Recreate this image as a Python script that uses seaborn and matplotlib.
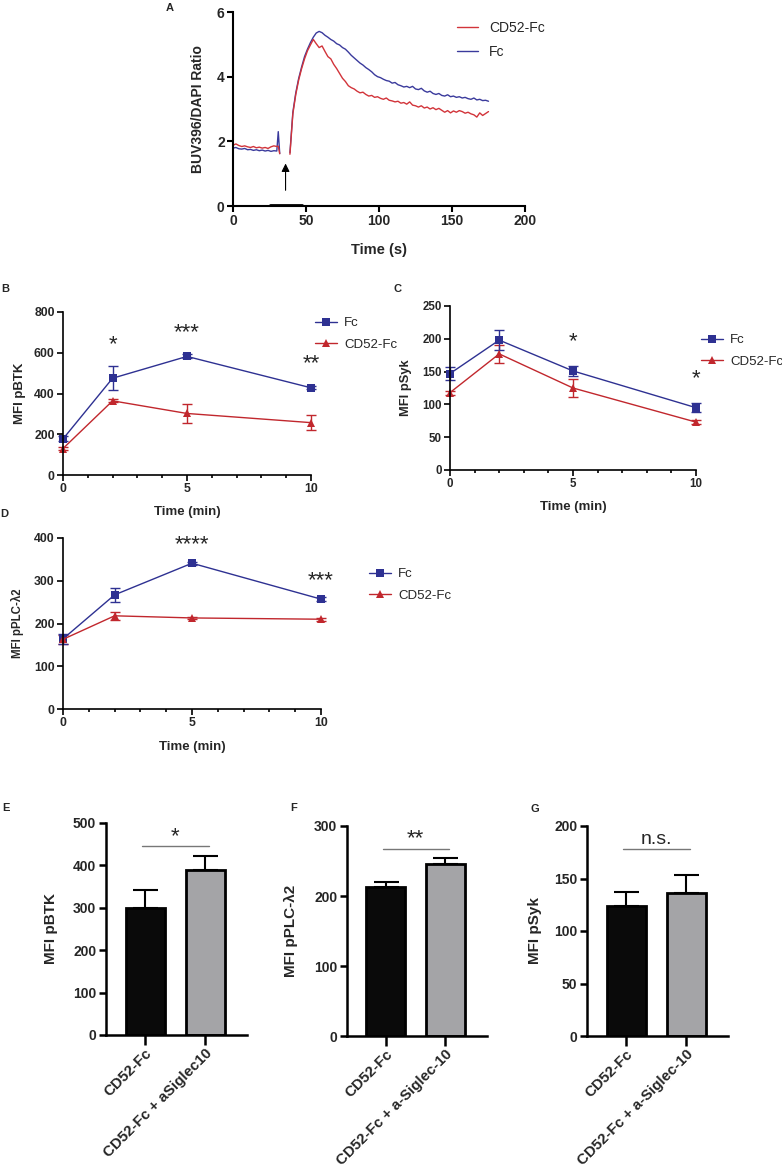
import pandas as pd
import seaborn as sns
import matplotlib.pyplot as plt
from matplotlib.lines import Line2D
from matplotlib.ticker import MultipleLocator

W, H = 782, 1175

# ---------------- data ----------------
# A: calcium flux trace (BUV396/DAPI ratio)
flux_t_pre = [0, 2, 4, 6, 8, 10, 12, 14, 16, 18, 20, 22, 24, 26, 28, 30, 31, 32]
flux_cd52_pre = [1.88, 1.92, 1.87, 1.84, 1.86, 1.83, 1.81, 1.84, 1.80, 1.82,
                 1.79, 1.81, 1.78, 1.83, 1.86, 1.84, 1.85, 1.62]
flux_fc_pre = [1.79, 1.81, 1.77, 1.76, 1.78, 1.74, 1.75, 1.72, 1.74, 1.71,
               1.73, 1.70, 1.72, 1.69, 1.71, 1.70, 2.30, 1.62]
flux_t_post = list(range(39, 176, 2))
flux_cd52_post = [1.60, 2.85, 3.45, 3.90, 4.25, 4.55, 4.80, 4.98, 5.15, 5.02, 4.90,
                  4.95, 4.78, 4.62, 4.55, 4.38, 4.25, 4.10, 3.95, 3.85, 3.72,
                  3.66, 3.62, 3.55, 3.50, 3.52, 3.45, 3.40, 3.42, 3.36, 3.38,
                  3.33, 3.30, 3.34, 3.27, 3.25, 3.22, 3.24, 3.18, 3.20, 3.15,
                  3.22, 3.12, 3.10, 3.06, 3.10, 3.03, 3.06, 3.00, 3.04, 2.98,
                  3.02, 2.96, 2.90, 2.95, 2.88, 2.94, 2.90, 2.95, 2.92, 2.87,
                  2.90, 2.85, 2.82, 2.75, 2.88, 2.80, 2.86, 2.92]
flux_fc_post = [1.65, 2.90, 3.50, 3.95, 4.30, 4.62, 4.85, 5.05, 5.22, 5.35, 5.40,
                5.36, 5.28, 5.22, 5.15, 5.10, 5.02, 4.98, 4.90, 4.85, 4.76,
                4.66, 4.58, 4.50, 4.42, 4.36, 4.28, 4.22, 4.15, 4.06, 4.00,
                3.97, 3.92, 3.88, 3.86, 3.80, 3.82, 3.75, 3.72, 3.68, 3.70,
                3.66, 3.70, 3.62, 3.60, 3.64, 3.56, 3.52, 3.55, 3.48, 3.45,
                3.48, 3.42, 3.40, 3.44, 3.38, 3.40, 3.36, 3.38, 3.34, 3.36,
                3.32, 3.30, 3.34, 3.28, 3.30, 3.26, 3.27, 3.24]
stim_window = [25, 47.5]
stim_arrow_x = 36

# B-D: time courses (min)
time_min = [0, 2, 5, 10]
b_fc = [177, 475, 582, 428]
b_fc_err = [12, 58, 10, 8]
b_cd52 = [130, 364, 302, 257]
b_cd52_err = [8, 8, 45, 38]
b_stars = ['', '*', '***', '**']

c_fc = [147, 198, 151, 95]
c_fc_err = [10, 15, 8, 7]
c_cd52 = [118, 177, 125, 73]
c_cd52_err = [3, 14, 13, 3]
c_stars = ['', '', '*', '*']

d_fc = [164, 267, 341, 257]
d_fc_err = [12, 17, 4, 4]
d_cd52 = [163, 218, 213, 210]
d_cd52_err = [10, 10, 3, 3]
d_stars = ['', '', '****', '***']

# E-G: bar charts
e_groups = ['CD52-Fc', 'CD52-Fc + aSiglec10']
fg_groups = ['CD52-Fc', 'CD52-Fc + a-Siglec-10']
e_vals = [299, 388]
e_err = [44, 34]
f_vals = [213, 246]
f_err = [7, 8]
g_vals = [124, 136]
g_err = [13, 17]

# ---------------- style ----------------
sns.set_theme(style='ticks')
plt.rcParams['font.family'] = ['Liberation Sans', 'DejaVu Sans']
plt.rcParams['font.weight'] = 'bold'
plt.rcParams['axes.labelweight'] = 'bold'

blue = '#2e3192'
red = '#c1272d'
trace_blue = '#3a3a9c'
trace_red = '#d2343a'

fig = plt.figure(figsize=(W / 100, H / 100), dpi=100)


def px_box(x0, y0, x1, y1):
    return [x0 / W, 1 - y1 / H, (x1 - x0) / W, (y1 - y0) / H]


def fig_pt(x, y):
    return (x / W, 1 - y / H)


def style_axes(ax, lw, fs, tlen=4):
    sns.despine(ax=ax)
    for s in ['left', 'bottom']:
        ax.spines[s].set_linewidth(lw)
        ax.spines[s].set_color('black')
    ax.tick_params(width=lw, length=tlen, labelsize=fs, color='black', pad=2)


# ---------------- A ----------------
ax = fig.add_axes(px_box(233, 12, 525, 206))
sns.lineplot(x=flux_t_pre, y=flux_fc_pre, color=trace_blue, lw=1, ax=ax)
sns.lineplot(x=flux_t_post, y=flux_fc_post, color=trace_blue, lw=1, ax=ax)
sns.lineplot(x=flux_t_pre, y=flux_cd52_pre, color=trace_red, lw=1, ax=ax)
sns.lineplot(x=flux_t_post, y=flux_cd52_post, color=trace_red, lw=1, ax=ax)
ax.plot(stim_window, [0.04, 0.04], color='black', lw=2, clip_on=False)
ax.annotate('', xy=(stim_arrow_x, 1.4), xytext=(stim_arrow_x, 0.4),
            arrowprops=dict(arrowstyle='-|>', color='black', lw=0.8, mutation_scale=12))
ax.set_xlim(0, 200)
ax.set_ylim(0, 6)
ax.xaxis.set_major_locator(MultipleLocator(50))
ax.yaxis.set_major_locator(MultipleLocator(2))
style_axes(ax, 1.5, 10)
ax.set_xlabel('Time (s)', fontsize=10.5)
ax.set_ylabel('BUV396/DAPI Ratio', fontsize=10)
ax.yaxis.set_label_coords(-0.095, 0.5)
ax.xaxis.set_label_coords(0.5, -0.19)
ax.legend([Line2D([0], [0], color=trace_red, lw=1), Line2D([0], [0], color=trace_blue, lw=1)],
          ['CD52-Fc', 'Fc'], loc='center left', bbox_to_anchor=fig_pt(457, 40),
          bbox_transform=fig.transFigure, frameon=False, prop={'weight': 'normal', 'size': 10},
          handlelength=1.5, handletextpad=0.8, labelspacing=0.75, borderpad=0, borderaxespad=0)
fig.text(*fig_pt(170, 8), 'A', fontsize=8, ha='center', va='center')


# ---------------- B-D ----------------
def time_panel(box, fc, fc_err, cd, cd_err, stars, ymax, ystep, ylabel, leg_xy, star_pad,
               fs, ylab_fs, ylab_x):
    ax = fig.add_axes(px_box(*box))
    df = pd.DataFrame({'time': time_min * 2, 'mfi': fc + cd,
                       'group': ['Fc'] * 4 + ['CD52-Fc'] * 4})
    ax.errorbar(time_min, cd, yerr=cd_err, fmt='none', ecolor=red, elinewidth=1,
                capsize=3.5, capthick=1, clip_on=False)
    ax.errorbar(time_min, fc, yerr=fc_err, fmt='none', ecolor=blue, elinewidth=1,
                capsize=3.5, capthick=1, clip_on=False)
    sns.lineplot(data=df, x='time', y='mfi', hue='group', style='group',
                 markers={'Fc': 's', 'CD52-Fc': '^'}, dashes=False,
                 palette={'Fc': blue, 'CD52-Fc': red}, lw=1, markersize=6,
                 markeredgewidth=0, legend=False, ax=ax, clip_on=False)
    for i, s in enumerate(stars):
        if s:
            top = max(fc[i] + fc_err[i], cd[i] + cd_err[i])
            ax.annotate(s, (time_min[i], top), xytext=(0, star_pad), textcoords='offset pixels',
                        ha='center', va='center', fontsize=16, fontweight='normal')
    ax.set_xlim(0, 10)
    ax.set_ylim(0, ymax)
    ax.xaxis.set_major_locator(MultipleLocator(5))
    ax.xaxis.set_minor_locator(MultipleLocator(1))
    ax.yaxis.set_major_locator(MultipleLocator(ystep))
    style_axes(ax, 1.2, fs)
    ax.tick_params(axis='x', which='minor', width=1.2, length=2.5, color='black')
    ax.set_xlabel('Time (min)', fontsize=9.5)
    ax.set_ylabel(ylabel, fontsize=ylab_fs)
    ax.yaxis.set_label_coords(ylab_x, 0.5)
    ax.xaxis.set_label_coords(0.5, -0.19)
    handles = [Line2D([0], [0], color=blue, marker='s', lw=1, ms=5.5, mew=0),
               Line2D([0], [0], color=red, marker='^', lw=1, ms=5.5, mew=0)]
    ax.legend(handles, ['Fc', 'CD52-Fc'], loc='center left', bbox_to_anchor=fig_pt(*leg_xy),
              bbox_transform=fig.transFigure, frameon=False,
              prop={'weight': 'normal', 'size': 9.5}, handlelength=1.7,
              handletextpad=0.5, labelspacing=0.7, borderpad=0, borderaxespad=0)
    return ax


time_panel((63, 312, 311, 475), b_fc, b_fc_err, b_cd52, b_cd52_err, b_stars, 800, 200,
           'MFI pBTK', (315, 334), 22, 8.8, 9.5, -0.15)
time_panel((450, 306, 696, 470), c_fc, c_fc_err, c_cd52, c_cd52_err, c_stars, 250, 50,
           'MFI pSyk', (701, 351), 24, 8.3, 9.3, -0.155)
time_panel((63, 538, 321, 709), d_fc, d_fc_err, d_cd52, d_cd52_err, d_stars, 400, 100,
           'MFI pPLC-λ2', (369, 585), 17, 8.8, 8.3, -0.15)
fig.text(*fig_pt(5, 289), 'B', fontsize=8, ha='center', va='center')
fig.text(*fig_pt(398, 289), 'C', fontsize=8, ha='center', va='center')
fig.text(*fig_pt(4, 514), 'D', fontsize=8, ha='center', va='center')


# ---------------- E-G ----------------
def bar_panel(box, groups, vals, errs, ymax, ystep, ylabel, sig, sig_fs, ylab_x):
    ax = fig.add_axes(px_box(*box))
    sns.barplot(x=groups, y=vals, hue=groups, palette=['#0a0a0a', '#a3a4a8'],
                edgecolor='black', linewidth=2, width=0.65, legend=False, ax=ax)
    ax.errorbar(range(len(groups)), vals, yerr=[[0] * len(errs), errs], fmt='none',
                ecolor='black', elinewidth=1.5, capsize=9, capthick=1.5, zorder=0)
    y_sig = 0.89 * ymax
    ax.plot([-0.05, 1.07], [y_sig, y_sig], color='#777777', lw=1)
    ax.annotate(sig, (0.5, y_sig), xytext=(0, 10), textcoords='offset pixels',
                ha='center', va='center', fontsize=sig_fs, fontweight='normal')
    ax.set_xlim(-0.65, 1.7)
    ax.set_ylim(0, ymax)
    ax.yaxis.set_major_locator(MultipleLocator(ystep))
    style_axes(ax, 1.8, 10, tlen=5)
    ax.tick_params(axis='x', length=7, pad=1)
    ax.set_xticks(range(len(groups)))
    ax.set_xticklabels(groups, rotation=45, ha='right', rotation_mode='anchor', fontsize=10.8)
    ax.set_ylabel(ylabel, fontsize=11)
    ax.yaxis.set_label_coords(ylab_x, 0.5)
    return ax


bar_panel((106, 823, 247, 1035), e_groups, e_vals, e_err, 500, 100, 'MFI pBTK', '*', 16, -0.34)
bar_panel((347, 826, 487, 1036), fg_groups, f_vals, f_err, 300, 100, 'MFI pPLC-λ2', '**', 16, -0.35)
bar_panel((587, 826, 728, 1036), fg_groups, g_vals, g_err, 200, 50, 'MFI pSyk', 'n.s.', 14, -0.32)
fig.text(*fig_pt(6, 808), 'E', fontsize=8, ha='center', va='center')
fig.text(*fig_pt(294, 808), 'F', fontsize=8, ha='center', va='center')
fig.text(*fig_pt(535, 809), 'G', fontsize=8, ha='center', va='center')

fig.savefig('out.png', dpi=100)
